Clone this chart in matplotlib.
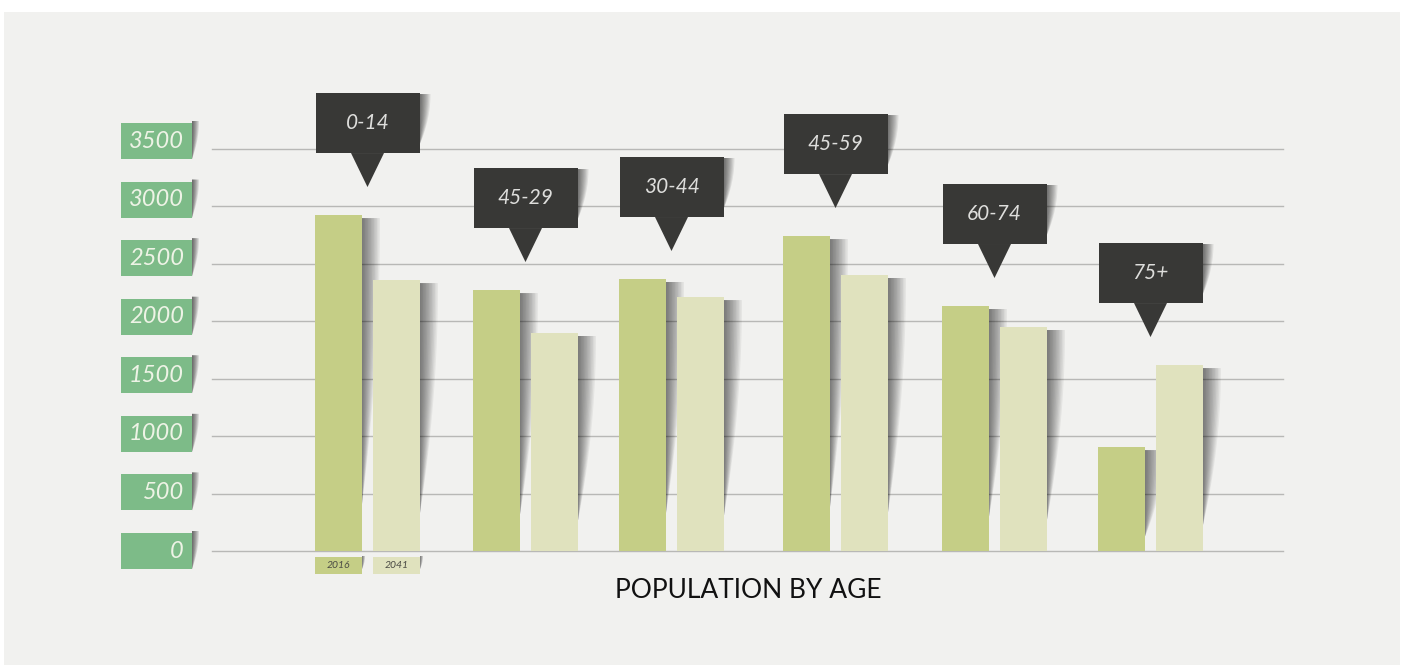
import numpy as np
import matplotlib
matplotlib.use("Agg")
import matplotlib.pyplot as plt
from matplotlib.patches import Rectangle, Polygon

# ---- data ----
age_groups = ["0-14", "45-29", "30-44", "45-59", "60-74", "75+"]
pop_2016 = [2925, 2272, 2368, 2742, 2133, 905]
pop_2041 = [2359, 1898, 2211, 2403, 1950, 1619]
series_names = ["2016", "2041"]
y_ticks = [0, 500, 1000, 1500, 2000, 2500, 3000, 3500]

# ---- layout (pixels) ----
W, H = 1403, 665
group_x = [155.5, 313.5, 459.5, 623.5, 782.5, 938.5]   # group centres, px from plot left
bar_w = 47
bar_off = 29
UPX = 3500 / 402.0   # data units per pixel (vertical)

c_bg = "#f1f1ef"
c_2016 = "#c5ce86"
c_2041 = "#e0e2be"
c_tick = "#7dbb88"
c_call = "#383836"
c_grid = "#b8b8b6"

plt.rcParams['font.family'] = ['Lato', 'DejaVu Sans']

fig = plt.figure(figsize=(W / 100, H / 100), dpi=100)
fig.patch.set_facecolor("white")
fig.patches.append(Rectangle((4 / W, 0), 1396 / W, 653 / H, transform=fig.transFigure,
                             facecolor=c_bg, edgecolor="none", zorder=-1))

ax = fig.add_axes([212 / W, (H - 551) / H, 1071 / W, 402 / H])
ax.set_zorder(1)
ax.set_xlim(0, 1071)
ax.set_ylim(0, 3500)
ax.patch.set_visible(False)
for s in ax.spines.values():
    s.set_visible(False)
ax.set_xticks([])
ax.set_yticks([])


def shadow(x_right, y_top, y_end, w0, n=12, alpha=0.05):
    """soft curled shadow to the right of a box"""
    t = np.linspace(0, 1, 30)
    ys = y_top - (y_top - y_end) * t
    for k in range(n):
        frac = (k + 1) / n
        xs = x_right + w0 * frac * (1 - t ** 2)
        pts = list(zip(xs, ys)) + [(x_right, y_end), (x_right, y_top)]
        ax.add_patch(Polygon(pts, closed=True, facecolor="black", edgecolor="none",
                             alpha=alpha, zorder=1, clip_on=False))


# grid lines
for v in y_ticks:
    ax.plot([0, 1071], [v, v], color=c_grid, lw=1, zorder=0.5, clip_on=False)

# bars
xs = np.array(group_x)
b1 = ax.bar(xs - bar_off, pop_2016, width=bar_w, color=c_2016, zorder=3)
b2 = ax.bar(xs + bar_off, pop_2041, width=bar_w, color=c_2041, zorder=3)
for bars in (b1, b2):
    for r in bars:
        h = r.get_height()
        top = h - 3 * UPX
        shadow(r.get_x() + r.get_width(), top, h * 0.14, 18)

# y tick boxes
for v in y_ticks:
    yc = v + v / 3500 * 8 * UPX
    hh = 18 * UPX
    ax.add_patch(Rectangle((-91, yc - hh), 71, 2 * hh, facecolor=c_tick, edgecolor="none",
                           zorder=3, clip_on=False))
    shadow(-20, yc + hh + 2 * UPX, yc - hh, 7, n=7, alpha=0.1)
    ax.text(-28, yc, f"{v}", ha="right", va="center", color="#eef3e6", fontsize=17,
            fontstyle="italic", fontweight="normal", zorder=4, clip_on=False)

# call-outs with age labels
for x, a, b, lab in zip(xs, pop_2016, pop_2041, age_groups):
    tip = max(a, b) + 28 * UPX
    base = tip + 34 * UPX
    top = base + 60 * UPX
    ax.add_patch(Polygon([(x - 16.5, base), (x + 16.5, base), (x, tip)], closed=True,
                         facecolor=c_call, edgecolor="none", zorder=5, clip_on=False))
    ax.add_patch(Rectangle((x - 52, base), 104, top - base, facecolor=c_call,
                           edgecolor="none", zorder=5, clip_on=False))
    shadow(x + 52, top - 1 * UPX, base + 8 * UPX, 11, n=9, alpha=0.08)
    ax.text(x, top - 30 * UPX, lab, ha="center", va="center", color="#dededc", fontsize=15,
            fontstyle="italic", fontweight="normal", zorder=6, clip_on=False)

# legend chips under first group
for dx, name, col in ((-bar_off, series_names[0], c_2016), (bar_off, series_names[1], c_2041)):
    x0 = xs[0] + dx - bar_w / 2
    ax.add_patch(Rectangle((x0, -23 * UPX), bar_w, 17 * UPX, facecolor=col, edgecolor="none",
                           zorder=3, clip_on=False))
    shadow(x0 + bar_w, -5 * UPX, -18 * UPX, 3, n=4, alpha=0.15)
    ax.text(x0 + bar_w / 2, -14.5 * UPX, name, ha="center", va="center", color="#4a4a44",
            fontsize=7.5, fontstyle="italic", zorder=4, clip_on=False)

fig.text(748 / W, 1 - 590 / H, "POPULATION BY AGE", ha="center", va="center",
         fontsize=19, color="#111111")

fig.savefig("out.png", dpi=100, facecolor="white")
